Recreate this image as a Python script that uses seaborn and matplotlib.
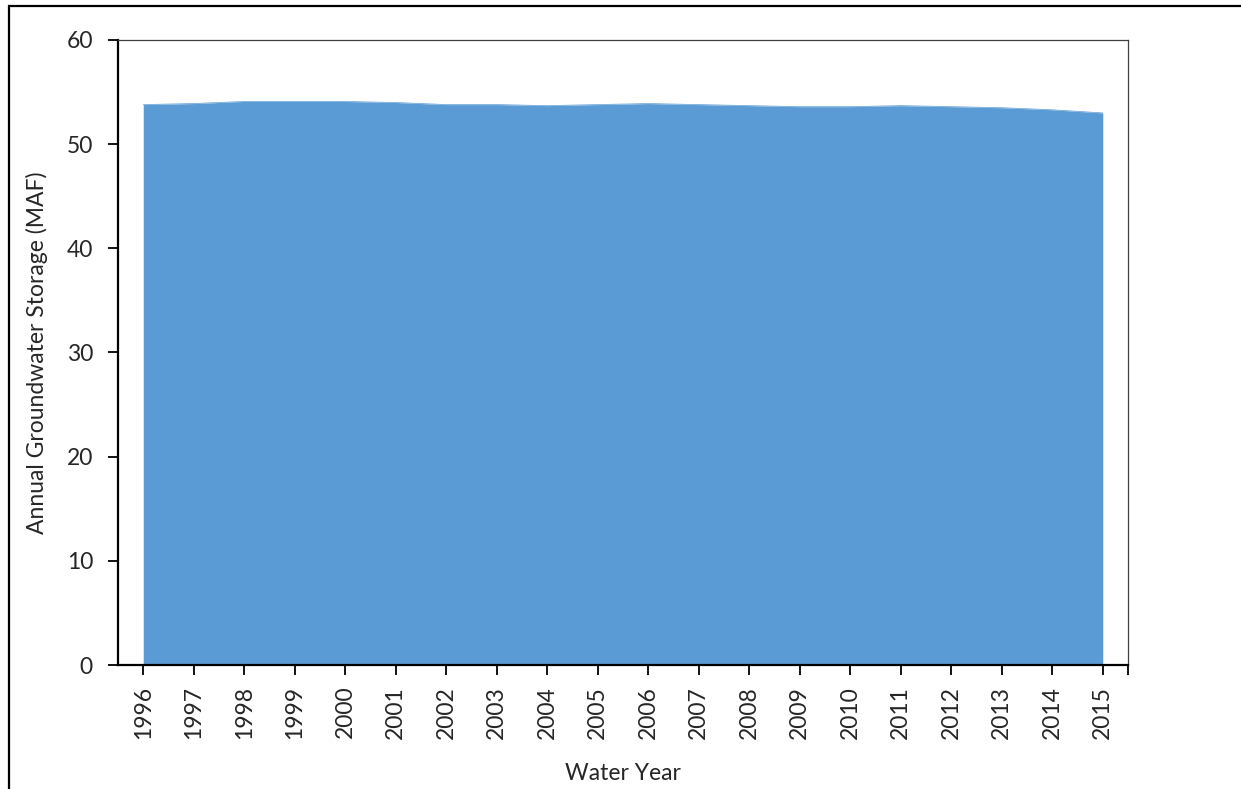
import numpy as np
import pandas as pd
import matplotlib
matplotlib.use("Agg")
import matplotlib.pyplot as plt
import seaborn as sns
from matplotlib.patches import Rectangle

# values (MAF)
years = list(range(1996, 2016))
storage = [53.8, 53.9, 54.1, 54.1, 54.1, 54.0, 53.8, 53.8, 53.7, 53.8,
           53.9, 53.8, 53.7, 53.6, 53.6, 53.7, 53.6, 53.5, 53.3, 53.0]
y_ticks = [0, 10, 20, 30, 40, 50, 60]

df = pd.DataFrame({"year": years, "storage": storage})

sns.set_style("white")
plt.rcParams['font.family'] = ['Lato', 'DejaVu Sans']

fig = plt.figure(figsize=(12.41, 7.89), dpi=100)
ax = fig.add_axes([118 / 1241, 1 - 665 / 789, 1010 / 1241, 625 / 789])

sns.lineplot(data=df, x="year", y="storage", color="#5B9BD5", linewidth=0.5, ax=ax)
ax.fill_between(df["year"], 0, df["storage"], color="#5B9BD5", linewidth=0)

ax.set_xlim(1995.5, 2015.5)
ax.set_ylim(0, 60)
ax.set_xticks(years)
ax.set_xticklabels([str(y) for y in years], rotation=90, fontsize=16.5)
ax.set_xticks([2015.5], minor=True)
ax.set_yticks(y_ticks)
ax.set_yticklabels([str(v) for v in y_ticks], fontsize=16.5)
ax.tick_params(axis="both", which="both", direction="out", length=7, width=1.3,
               color="black", bottom=True, left=True)
ax.tick_params(axis="y", pad=11)
ax.tick_params(axis="x", pad=8)

ax.set_xlabel("Water Year", fontsize=16.5, labelpad=17)
ax.set_ylabel("Annual Groundwater Storage (MAF)", fontsize=16.5, labelpad=13)

for side in ["left", "bottom"]:
    ax.spines[side].set_color("black")
    ax.spines[side].set_linewidth(1.6)
for side in ["top", "right"]:
    ax.spines[side].set_color("#404040")
    ax.spines[side].set_linewidth(0.9)

# outer chart frame (cut off at right/bottom in the reference)
fig.patches.append(Rectangle((9 / 1241, -0.1), 1.2, 1 - 6 / 789 + 0.1,
                             transform=fig.transFigure, fill=False,
                             edgecolor="black", linewidth=1.6))

fig.savefig("out.png", dpi=100)
